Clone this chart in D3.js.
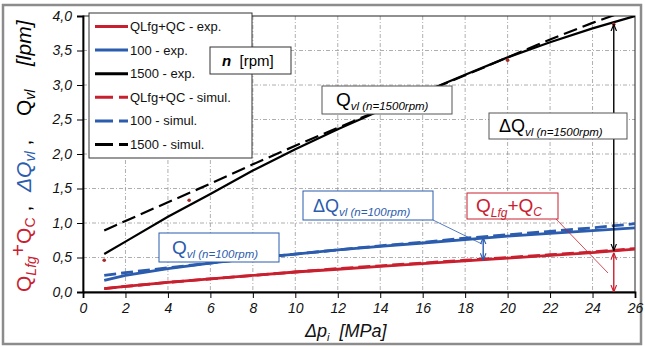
<!DOCTYPE html>
<html>
<head>
<meta charset="utf-8">
<script src="https://cdn.jsdelivr.net/npm/d3@7"></script>
<style>
  body { margin: 0; background: #fff; }
  svg { font-family: Arial, "Liberation Sans", sans-serif; }
  .tick text { font-style: italic; font-size: 14px; fill: #111; }
  .grid line { stroke: #9a9a9a; stroke-width: 0.8; stroke-dasharray: 4,2,1,2; }
</style>
</head>
<body>
<div id="chart"></div>
<script>
// chart size
const svgWidth = 645;
const svgHeight = 347;
const margin = { top: 16, right: 10, bottom: 55, left: 83 };
const width = 635 - margin.left;
const height = 292 - margin.top;

// data
const pressure = [1, 2, 4, 6, 8, 10, 12, 14, 16, 18, 20, 22, 24, 26];
const leakExp = [0.05, 0.08, 0.14, 0.19, 0.24, 0.29, 0.33, 0.37, 0.41, 0.45, 0.49, 0.53, 0.57, 0.62];
const leakSim = [0.05, 0.08, 0.14, 0.19, 0.24, 0.29, 0.34, 0.38, 0.42, 0.46, 0.50, 0.54, 0.58, 0.63];
const n100Exp = [0.17, 0.24, 0.34, 0.42, 0.49, 0.55, 0.61, 0.66, 0.71, 0.76, 0.81, 0.85, 0.89, 0.93];
const n100Sim = [0.24, 0.28, 0.35, 0.42, 0.49, 0.55, 0.61, 0.67, 0.72, 0.78, 0.83, 0.88, 0.93, 0.99];
const n1500Exp = [0.55, 0.73, 1.09, 1.42, 1.76, 2.07, 2.36, 2.63, 2.89, 3.15, 3.40, 3.62, 3.82, 4.00];
const n1500Sim = [0.89, 1.03, 1.30, 1.57, 1.85, 2.12, 2.38, 2.64, 2.89, 3.14, 3.40, 3.66, 3.90, 4.12];

// measured points for 1500 rpm
const markX = [1, 5, 20, 25];
const markY = [0.46, 1.33, 3.36, 3.88];

const xTicks = d3.range(0, 27, 2);
const yTicks = d3.range(0, 4.01, 0.5);

const legendNames = ["QLfg+QC - exp.", "100 - exp.", "1500 - exp.",
  "QLfg+QC - simul.", "100 - simul.", "1500 - simul."];

const red = "#c9202f";
const blue = "#2b5cad";
const black = "#000";

const series = [
  { name: legendNames[0], values: leakExp, color: red, w: 2.8, dash: null },
  { name: legendNames[1], values: n100Exp, color: blue, w: 2.8, dash: null },
  { name: legendNames[2], values: n1500Exp, color: black, w: 2.2, dash: null },
  { name: legendNames[3], values: leakSim, color: red, w: 2.8, dash: "12,5" },
  { name: legendNames[4], values: n100Sim, color: blue, w: 2.8, dash: "12,5" },
  { name: legendNames[5], values: n1500Sim, color: black, w: 2.2, dash: "14,6" }
];

const svg = d3.select("#chart").append("svg")
  .attr("width", svgWidth)
  .attr("height", svgHeight);

// outer frame
svg.append("rect")
  .attr("x", 3).attr("y", 5)
  .attr("width", 638).attr("height", 339)
  .attr("fill", "#fff")
  .attr("stroke", "#8c8c8c")
  .attr("stroke-width", 2.5);

const defs = svg.append("defs");
defs.append("clipPath").attr("id", "plotclip")
  .append("rect").attr("width", width).attr("height", height);

// open arrow heads
[["blk", black], ["red", red], ["blu", blue]].forEach(([id, c]) => {
  defs.append("marker")
    .attr("id", "arr-" + id)
    .attr("viewBox", "0 0 10 10")
    .attr("refX", 10).attr("refY", 5)
    .attr("markerWidth", 7).attr("markerHeight", 7)
    .attr("markerUnits", "userSpaceOnUse")
    .attr("orient", "auto-start-reverse")
    .append("path")
    .attr("d", "M0,1 L10,5 L0,9")
    .attr("fill", "none")
    .attr("stroke", c)
    .attr("stroke-width", 1.6);
});

const chartGroup = svg.append("g")
  .attr("transform", `translate(${margin.left}, ${margin.top})`);

const x = d3.scaleLinear().domain([0, 26]).range([0, width]);
const y = d3.scaleLinear().domain([0, 4]).range([height, 0]);

// grid
chartGroup.append("g").attr("class", "grid")
  .selectAll("line").data(xTicks.slice(1, -1)).enter().append("line")
  .attr("x1", d => x(d)).attr("x2", d => x(d))
  .attr("y1", 0).attr("y2", height);
chartGroup.append("g").attr("class", "grid")
  .selectAll("line").data(yTicks.slice(1, -1)).enter().append("line")
  .attr("y1", d => y(d)).attr("y2", d => y(d))
  .attr("x1", 0).attr("x2", width);

// frame of plot area
chartGroup.append("rect")
  .attr("width", width).attr("height", height)
  .attr("fill", "none").attr("stroke", "#222").attr("stroke-width", 1);

// axes
const bottomAxis = d3.axisBottom(x).tickValues(xTicks).tickSize(6).tickPadding(5)
  .tickFormat(d3.format("d"));
const leftAxis = d3.axisLeft(y).tickValues(yTicks).tickSize(6).tickPadding(5)
  .tickFormat(d => d3.format(".1f")(d).replace(".", ","));

chartGroup.append("g")
  .attr("transform", `translate(0, ${height})`)
  .call(bottomAxis)
  .call(g => g.select(".domain").attr("stroke-width", 1.8));
chartGroup.append("g")
  .call(leftAxis)
  .call(g => g.select(".domain").attr("stroke-width", 1.8));

// series lines
const line = d3.line()
  .x((d, i) => x(pressure[i]))
  .y(d => y(d));

const lineGroup = chartGroup.append("g").attr("clip-path", "url(#plotclip)");
series.forEach(s => {
  lineGroup.append("path")
    .datum(s.values)
    .attr("d", line)
    .attr("fill", "none")
    .attr("stroke", s.color)
    .attr("stroke-width", s.w)
    .attr("stroke-dasharray", s.dash);
});

// measured points
chartGroup.selectAll(".mark")
  .data(markX).enter().append("circle")
  .attr("class", "mark")
  .attr("cx", d => x(d))
  .attr("cy", (d, i) => y(markY[i]))
  .attr("r", 1.8)
  .attr("fill", "#a52a2a");

// double arrows
function dblArrow(px, v1, v2, id, c, w) {
  chartGroup.append("line")
    .attr("x1", x(px)).attr("x2", x(px))
    .attr("y1", y(v1)).attr("y2", y(v2))
    .attr("stroke", c).attr("stroke-width", w)
    .attr("marker-start", `url(#arr-${id})`)
    .attr("marker-end", `url(#arr-${id})`);
}
dblArrow(25, 3.88, 0.6, "blk", black, 1.4);
dblArrow(25, 0.57, 0.0, "red", red, 1.4);
dblArrow(18.85, 0.79, 0.46, "blu", blue, 1.4);

// leader lines
svg.append("line")
  .attr("x1", 433).attr("y1", 220).attr("x2", 482).attr("y2", 244)
  .attr("stroke", blue).attr("stroke-width", 0.8);
svg.append("line")
  .attr("x1", 556).attr("y1", 219).attr("x2", 608).attr("y2", 273)
  .attr("stroke", red).attr("stroke-width", 0.8);

// annotation boxes
function noteBox(x0, y0, w, h, stroke, color, parts, anchorX) {
  const g = svg.append("g");
  g.append("rect")
    .attr("x", x0).attr("y", y0).attr("width", w).attr("height", h)
    .attr("fill", "#fff").attr("stroke", stroke).attr("stroke-width", 1);
  const t = g.append("text")
    .attr("x", anchorX).attr("y", y0 + h / 2 + 6)
    .attr("fill", color);
  parts.forEach(p => {
    t.append("tspan")
      .attr("font-size", p.size)
      .attr("font-style", p.italic ? "italic" : null)
      .attr("dy", p.dy || null)
      .text(p.text);
  });
}

noteBox(322, 86, 130, 28, "#555", black, [
  { text: "Q", size: 19 },
  { text: "vl (n=1500rpm)", size: 11.5, italic: true, dy: 4 }
], 336);
noteBox(489, 113, 138, 26, "#555", black, [
  { text: "ΔQ", size: 18, italic: false },
  { text: "vl (n=1500rpm)", size: 11.5, italic: true, dy: 4 }
], 499);
noteBox(159, 233, 120, 29, blue, blue, [
  { text: "Q", size: 19 },
  { text: "vl (n=100rpm)", size: 11.5, italic: true, dy: 4 }
], 172);
noteBox(303, 191, 130, 29, blue, blue, [
  { text: "ΔQ", size: 18 },
  { text: "vl (n=100rpm)", size: 11.5, italic: true, dy: 4 }
], 313);
noteBox(467, 193, 91, 26, red, red, [
  { text: "Q", size: 19 },
  { text: "Lfg", size: 12, italic: true, dy: 5 },
  { text: "+Q", size: 19, dy: -5 },
  { text: "C", size: 12, italic: true, dy: 4 }
], 476);

// legend
const legend = svg.append("g");
legend.append("rect")
  .attr("x", 89).attr("y", 13).attr("width", 163).attr("height", 145)
  .attr("fill", "#fff").attr("stroke", "#333").attr("stroke-width", 1);
const entries = legend.selectAll(".entry")
  .data(series).enter().append("g")
  .attr("transform", (d, i) => `translate(95, ${26.5 + i * 23.6})`);
entries.append("line")
  .attr("x1", 0).attr("x2", 33)
  .attr("stroke", d => d.color)
  .attr("stroke-width", 3)
  .attr("stroke-dasharray", d => d.dash ? "18,6,9" : null);
entries.append("text")
  .attr("x", 35).attr("dy", "0.35em")
  .attr("font-size", 13).attr("fill", "#111")
  .text(d => d.name);

// n [rpm] box
svg.append("rect")
  .attr("x", 210).attr("y", 47).attr("width", 81).attr("height", 27)
  .attr("fill", "#fff").attr("stroke", "#333");
const nText = svg.append("text").attr("x", 222).attr("y", 66).attr("font-size", 15);
nText.append("tspan").attr("font-weight", "bold").attr("font-style", "italic").text("n");
nText.append("tspan").text("  [rpm]").attr("xml:space", "preserve");

// x axis label
const xLab = svg.append("text")
  .attr("x", 305).attr("y", 337)
  .attr("font-size", 18).attr("font-style", "italic").attr("fill", "#111")
  .attr("xml:space", "preserve");
xLab.append("tspan").text("Δp");
xLab.append("tspan").attr("font-size", 11).attr("dy", 4).text("i");
xLab.append("tspan").attr("dy", -4).text("  [MPa]");

// y axis label, four pieces placed along the axis
function yLabel(startY, parts) {
  const t = svg.append("text")
    .attr("transform", `translate(31, ${startY}) rotate(-90)`)
    .attr("font-size", 21);
  parts.forEach(p => {
    t.append("tspan")
      .attr("fill", p.c)
      .attr("font-size", p.size || null)
      .attr("font-style", p.italic ? "italic" : null)
      .attr("dy", p.dy || null)
      .text(p.text);
  });
}
yLabel(292, [
  { text: "Q", c: red },
  { text: "Lfg", c: red, size: 14, italic: true, dy: 5 },
  { text: "+", c: red, dy: -11 },
  { text: "Q", c: red, dy: 6 },
  { text: "C", c: red, size: 14, dy: 4 },
  { text: " ,", c: black, dy: -4 }
]);
yLabel(192, [
  { text: "ΔQ", c: blue, italic: true },
  { text: "vl", c: blue, size: 14, italic: true, dy: 4 },
  { text: " ,", c: black, dy: -4 }
]);
yLabel(116, [
  { text: "Q", c: black },
  { text: "vl", c: black, size: 14, italic: true, dy: 4 }
]);
yLabel(66, [
  { text: "[lpm]", c: black, italic: true }
]);
</script>
</body>
</html>
